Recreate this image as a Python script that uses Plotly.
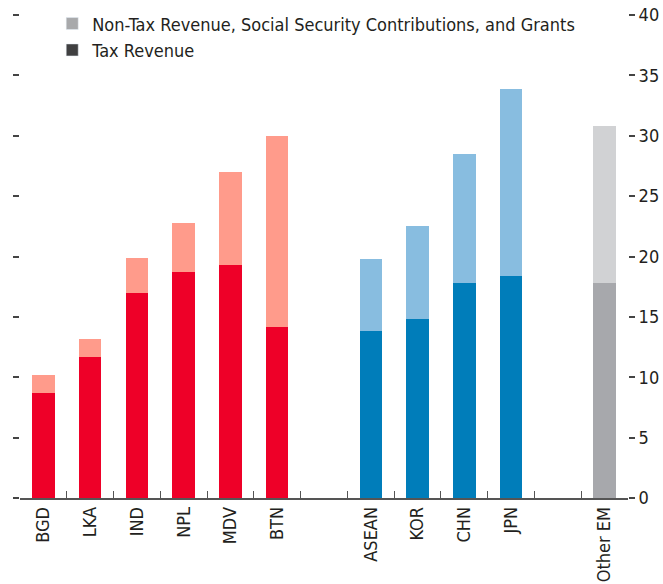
import plotly.graph_objects as go

# Data (percent of GDP)
south_asia = ["BGD", "LKA", "IND", "NPL", "MDV", "BTN"]
sa_tax = [8.7, 11.7, 17.0, 18.7, 19.3, 14.2]
sa_total = [10.2, 13.2, 19.9, 22.8, 27.0, 30.0]

east_asia = ["ASEAN", "KOR", "CHN", "JPN"]
ea_tax = [13.8, 14.8, 17.8, 18.4]
ea_total = [19.8, 22.5, 28.5, 33.9]

other = ["Other EM"]
ot_tax = [17.8]
ot_total = [30.8]

y_ticks = [0, 5, 10, 15, 20, 25, 30, 35, 40]

RED, RED_L = "#EE0028", "#FF9B8B"
BLUE, BLUE_L = "#007DBA", "#88BDE0"
GREY, GREY_L = "#A7A8AC", "#D1D2D4"

FONT = "Liberation Sans Narrow, Arial Narrow, DejaVu Sans Condensed, sans-serif"
TXT = "#231F20"

# Build category axis with blank spacer slots
cats = south_asia + [" "] + east_asia + ["  "] + other
tax = sa_tax + [None] + ea_tax + [None] + ot_tax
nontax = [round(t - x, 2) for t, x in zip(sa_total, sa_tax)] + [None] + \
         [round(t - x, 2) for t, x in zip(ea_total, ea_tax)] + [None] + \
         [round(t - x, 2) for t, x in zip(ot_total, ot_tax)]
tax_col = [RED] * len(south_asia) + ["white"] + [BLUE] * len(east_asia) + ["white"] + [GREY]
non_col = [RED_L] * len(south_asia) + ["white"] + [BLUE_L] * len(east_asia) + ["white"] + [GREY_L]

fig = go.Figure()
fig.add_trace(go.Bar(x=cats, y=tax, marker=dict(color=tax_col, line=dict(width=0)),
                     width=0.48, showlegend=False, name="Tax Revenue"))
fig.add_trace(go.Bar(x=cats, y=nontax, marker=dict(color=non_col, line=dict(width=0)),
                     width=0.48, showlegend=False,
                     name="Non-Tax Revenue, Social Security Contributions, and Grants"))
# legend entries
fig.add_trace(go.Bar(x=[cats[0]], y=[None], marker_color="#A8A9AB",
                     name="Non-Tax Revenue, Social Security Contributions, and Grants"))
fig.add_trace(go.Bar(x=[cats[0]], y=[None], marker_color="#404041", name="Tax Revenue"))

fig.update_layout(
    width=663, height=584,
    barmode="stack",
    plot_bgcolor="white", paper_bgcolor="white",
    margin=dict(l=20, r=35, t=15, b=86, autoexpand=False),
    font=dict(family=FONT, color=TXT, size=18),
    legend=dict(x=0.053, y=1.02, xanchor="left", yanchor="top",
                traceorder="normal", bgcolor="rgba(0,0,0,0)",
                font=dict(size=18, color=TXT), tracegroupgap=0,
                itemwidth=30),
    xaxis=dict(type="category", categoryorder="array", categoryarray=cats,
               tickson="boundaries", ticks="inside", ticklen=7, tickwidth=1.3,
               tickcolor="#555", showline=True, linecolor="#555", linewidth=1.5,
               tickangle=-90, tickfont=dict(size=18), showgrid=False,
               automargin=False, range=[-0.5, len(cats) - 0.5]),
    yaxis=dict(side="right", range=[0, 40], tickvals=y_ticks, ticks="outside",
               ticklen=6, tickwidth=1.5, tickcolor="#444", mirror="ticks",
               showline=False, showgrid=False, zeroline=False, automargin=False,
               ticklabeloverflow="allow",
               tickfont=dict(size=18), ticklabelstandoff=0),
)

# remove the browser's default 8px page margin so the figure sits at the window origin
fig.write_html("out.html",
               config={"displayModeBar": False},
               post_script="document.body.style.margin='0';document.body.style.overflow='hidden';")
